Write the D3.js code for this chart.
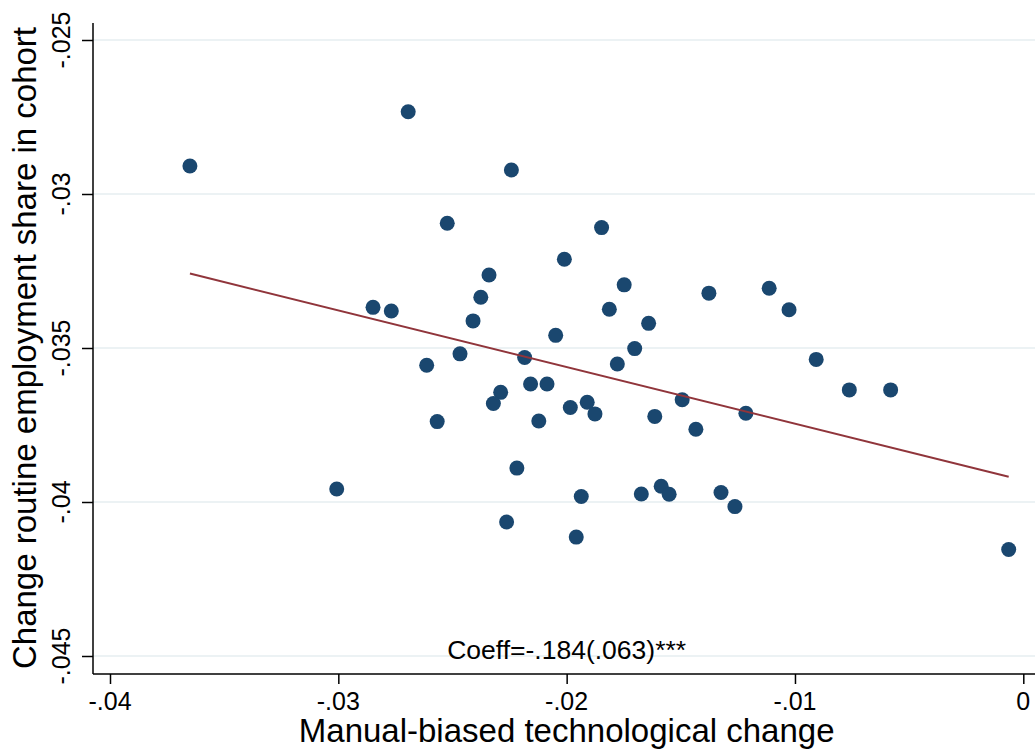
<!DOCTYPE html>
<html>
<head>
<meta charset="utf-8">
<script src="https://cdn.jsdelivr.net/npm/d3@7"></script>
<style>
  body { margin: 0; background: #fff; }
  text { font-family: Arial, "Liberation Sans", sans-serif; fill: #000; }
</style>
</head>
<body>
<div id="chart"></div>
<script>
// manual-biased technological change (x) and change in routine employment share (y)
const manualChange = [
  -0.03650, -0.02694, -0.02242, -0.02523, -0.01847, -0.02010, -0.02340, -0.01748, -0.02376, -0.02848,
  -0.02768, -0.01813, -0.02410, -0.01641, -0.02048, -0.02467, -0.01702, -0.02613, -0.02184, -0.01778,
  -0.01377, -0.01113, -0.01026, -0.00907, -0.00762, -0.00581, -0.02289, -0.02321, -0.02158, -0.02086,
  -0.02567, -0.02122, -0.01984, -0.01910, -0.01876, -0.01614, -0.01494, -0.01215, -0.01434, -0.02218,
  -0.01936, -0.01673, -0.01586, -0.01551, -0.02263, -0.01958, -0.01324, -0.01263, -0.03007, -0.00064
]
const routineChange = [
  -0.02909, -0.02733, -0.02922, -0.03095, -0.03109, -0.03212, -0.03263, -0.03295, -0.03335, -0.03368,
  -0.03380, -0.03374, -0.03412, -0.03420, -0.03459, -0.03519, -0.03502, -0.03556, -0.03531, -0.03552,
  -0.03322, -0.03306, -0.03376, -0.03537, -0.03636, -0.03636, -0.03644, -0.03680, -0.03617, -0.03617,
  -0.03739, -0.03737, -0.03693, -0.03676, -0.03714, -0.03722, -0.03668, -0.03712, -0.03764, -0.03890,
  -0.03982, -0.03974, -0.03949, -0.03975, -0.04065, -0.04114, -0.03969, -0.04015, -0.03958, -0.04154
]

// fitted line (slope from the note, intercept)
const fitSlope = -0.184
const fitIntercept = -0.0393
const note = "Coeff=-.184(.063)***"

const xTicks = [-0.04, -0.03, -0.02, -0.01, 0]
const yTicks = [-0.045, -0.04, -0.035, -0.03, -0.025]

const width = 1035,
    height = 751

// stata style labels: plain hyphen, no leading zero
const fmt = v => v === 0 ? "0" : d3.format(".3~f")(v).replace("\u2212", "-").replace("0.", ".")

const x = d3.scaleLinear().domain([-0.04, 0]).range([110, 1023.3])
const y = d3.scaleLinear().domain([-0.045, -0.025]).range([656, 40])

const svg = d3.select("#chart")
  .append("svg")
    .attr("width", width)
    .attr("height", height)

const axisX0 = 93, axisY0 = 674

// grid lines
svg.append("g")
  .selectAll("line")
  .data(yTicks)
  .join("line")
    .attr("x1", axisX0).attr("x2", width)
    .attr("y1", d => y(d)).attr("y2", d => y(d))
    .attr("stroke", "#e6eef0")
    .attr("stroke-width", 1.5)

// y axis
const yAxis = svg.append("g")
  .attr("transform", `translate(${axisX0},0)`)
  .call(d3.axisLeft(y).tickValues(yTicks).tickSize(11).tickFormat(""))
yAxis.select(".domain").attr("d", `M0,23V${axisY0}`).attr("stroke-width", 1.5)
yAxis.selectAll(".tick line").attr("stroke-width", 1.5)

svg.append("g")
  .selectAll("text")
  .data(yTicks)
  .join("text")
    .attr("transform", d => `translate(70,${y(d)}) rotate(-90)`)
    .attr("text-anchor", "middle")
    .style("font-size", "25px")
    .text(fmt)

// x axis
const xAxis = svg.append("g")
  .attr("transform", `translate(0,${axisY0})`)
  .call(d3.axisBottom(x).tickValues(xTicks).tickSize(10).tickFormat(""))
xAxis.select(".domain").attr("d", `M${axisX0},0H${width}`).attr("stroke-width", 1.5)
xAxis.selectAll(".tick line").attr("stroke-width", 1.5)

svg.append("g")
  .selectAll("text")
  .data(xTicks)
  .join("text")
    .attr("x", d => x(d))
    .attr("y", 710)
    .attr("text-anchor", "middle")
    .style("font-size", "25px")
    .text(fmt)

// axis titles
svg.append("text")
  .attr("x", x(-0.02))
  .attr("y", 742)
  .attr("text-anchor", "middle")
  .style("font-size", "33px")
  .text("Manual-biased technological change")

svg.append("text")
  .attr("transform", `translate(36,${y(-0.035)}) rotate(-90)`)
  .attr("text-anchor", "middle")
  .style("font-size", "33px")
  .text("Change routine employment share in cohort")

// scatter
const pts = manualChange.map((d, i) => [d, routineChange[i]])
svg.append("g")
  .selectAll("circle")
  .data(pts)
  .join("circle")
    .attr("cx", d => x(d[0]))
    .attr("cy", d => y(d[1]))
    .attr("r", 7.5)
    .attr("fill", "#1a476f")

// fitted line over the data range
const xExt = d3.extent(manualChange)
svg.append("path")
  .datum(xExt.map(v => [v, fitIntercept + fitSlope * v]))
  .attr("d", d3.line().x(d => x(d[0])).y(d => y(d[1])))
  .attr("fill", "none")
  .attr("stroke", "#90353b")
  .attr("stroke-width", 2)

// coefficient note
svg.append("text")
  .attr("x", x(-0.02))
  .attr("y", 659)
  .attr("text-anchor", "middle")
  .style("font-size", "26.5px")
  .text(note)
</script>
</body>
</html>
